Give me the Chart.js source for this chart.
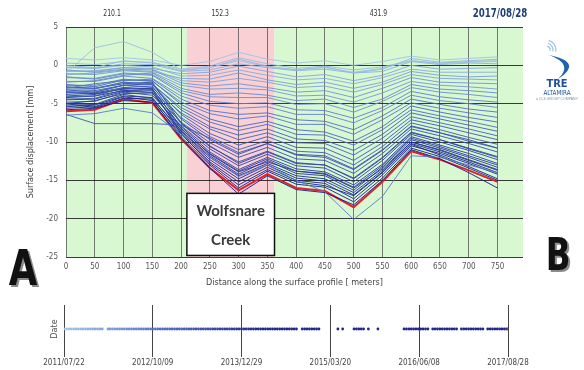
<!DOCTYPE html>
<html>
<head>
<meta charset="utf-8">
<script src="https://cdn.jsdelivr.net/npm/chart.js@4.4.0/dist/chart.umd.min.js"></script>
<style>
body{margin:0;background:#fff;width:584px;height:370px;overflow:hidden;position:relative}
#main{position:absolute;left:0;top:0}
#dates{position:absolute;left:0;top:295px}
</style>
</head>
<body>
<canvas id="main" width="584" height="295"></canvas>
<canvas id="dates" width="584" height="75"></canvas>
<script>
// ══════════════════════════════════════
//  DATA
// ══════════════════════════════════════
const distances=[0,50,100,150,200,250,300,350,400,450,500,550,600,650,700,750];
const yTicks=[5,0,-5,-10,-15,-20,-25];
const segLengths=[210.1,152.3,431.9];
const lastDate='2017/08/28';
// one displacement profile [mm] per acquisition, oldest first
const profiles=[
 [0.9,0.7,1.0,0.7,0.0,0.5,1.7,0.8,0.3,0.6,0.0,0.5,1.2,0.7,0.9,1.1],
 [-1.0,2.3,3.1,1.7,-0.6,-0.3,0.6,-0.2,-0.6,-0.3,-0.9,-0.4,0.6,0.2,0.4,0.5],
 [0.3,0.1,0.5,0.4,-0.5,-0.1,1.0,0.2,-0.4,-0.1,-0.6,-0.2,0.6,0.3,0.5,0.6],
 [0.0,-0.3,0.6,0.3,-0.7,-0.3,0.8,-0.1,-0.6,-0.2,-1.0,-0.5,0.9,0.4,0.6,0.8],
 [-0.2,-0.4,0.2,0.1,-0.8,-0.6,0.2,-0.3,-0.7,-0.5,-1.0,-0.8,0.5,0.1,0.3,0.2],
 [-0.3,-0.4,0.0,-0.2,-1.4,-1.3,-0.6,-1.3,-1.9,-1.7,-2.4,-1.6,-0.5,-0.9,-0.9,-0.9],
 [-0.8,-0.7,-0.3,-0.4,-1.1,-0.9,-0.1,-0.8,-1.5,-1.2,-2.0,-1.3,0.0,-0.5,-0.4,-0.3],
 [-0.7,-0.8,-0.3,-0.5,-2.0,-2.2,-1.7,-2.2,-2.9,-2.7,-3.5,-2.5,-1.2,-1.7,-1.8,-1.9],
 [-1.2,-1.0,-0.6,-0.8,-1.7,-1.8,-1.0,-1.9,-2.5,-2.2,-3.0,-2.2,-0.8,-1.3,-1.5,-1.4],
 [-1.1,-1.2,-0.7,-0.9,-2.6,-3.1,-3.0,-3.2,-4.0,-3.9,-4.8,-3.6,-2.1,-2.6,-2.8,-3.1],
 [-0.6,-0.9,-0.5,-0.6,-2.3,-2.7,-2.4,-2.9,-3.5,-3.3,-4.2,-3.0,-1.6,-2.2,-2.3,-2.4],
 [-1.6,-1.7,-1.0,-1.2,-3.3,-4.1,-4.2,-4.2,-5.1,-5.0,-6.1,-4.7,-2.9,-3.5,-3.8,-4.2],
 [-2.2,-2.0,-1.3,-1.0,-3.0,-3.8,-3.6,-3.9,-4.6,-4.4,-5.5,-4.4,-2.5,-3.1,-3.3,-3.6],
 [-2.1,-2.1,-1.4,-1.7,-4.0,-5.2,-5.6,-5.4,-6.4,-6.4,-7.5,-5.9,-3.9,-4.6,-5.0,-5.5],
 [-1.5,-1.8,-1.1,-1.3,-3.6,-4.7,-5.0,-4.9,-5.8,-5.9,-6.9,-5.5,-3.4,-4.1,-4.5,-4.8],
 [-6.5,-6.3,-5.6,-6.2,-9.0,-12.0,-14.5,-13.0,-15.0,-16.5,-20.1,-17.1,-11.8,-12.0,-13.0,-14.0],
 [-2.6,-2.6,-1.8,-2.1,-4.8,-6.3,-7.0,-6.6,-7.7,-7.7,-9.0,-7.1,-4.9,-5.6,-6.2,-6.8],
 [-3.0,-2.4,-2.0,-1.8,-4.4,-5.9,-6.4,-6.2,-7.1,-7.3,-8.4,-6.6,-4.4,-5.1,-5.7,-6.1],
 [-3.1,-3.1,-2.2,-2.5,-5.5,-7.4,-8.5,-7.7,-9.0,-9.1,-10.4,-8.4,-5.8,-6.6,-7.3,-8.1],
 [-2.5,-2.8,-1.9,-2.0,-5.1,-7.0,-8.0,-7.3,-8.4,-8.7,-9.9,-8.0,-5.3,-6.1,-6.8,-7.4],
 [-3.6,-3.5,-2.6,-2.9,-6.2,-8.3,-9.7,-8.8,-10.1,-10.2,-11.7,-9.5,-6.7,-7.5,-8.3,-9.2],
 [-2.9,-3.0,-2.2,-2.4,-5.8,-8.0,-9.1,-8.3,-9.6,-9.8,-11.1,-9.0,-6.2,-7.0,-7.8,-8.6],
 [-4.1,-4.0,-2.9,-3.3,-6.8,-9.3,-11.0,-9.8,-11.2,-11.4,-13.0,-10.6,-7.5,-8.4,-9.4,-10.3],
 [-3.4,-3.3,-2.6,-2.5,-6.4,-8.9,-10.4,-9.3,-10.7,-10.8,-12.4,-10.1,-7.1,-7.9,-8.8,-9.7],
 [-6.4,-7.6,-7.6,-7.6,-7.8,-9.5,-11.4,-10.2,-11.6,-11.8,-13.5,-11.0,-8.0,-8.8,-9.9,-10.8],
 [-4.4,-4.3,-3.2,-3.6,-7.4,-10.1,-12.0,-10.7,-12.2,-12.4,-14.1,-11.5,-8.3,-9.2,-10.2,-11.3],
 [-3.2,-3.5,-2.6,-2.4,-7.0,-9.7,-11.6,-10.2,-11.7,-12.0,-13.6,-11.1,-7.9,-8.8,-9.7,-10.8],
 [-3.8,-3.6,-2.9,-2.7,-7.6,-10.6,-12.6,-11.2,-12.7,-13.0,-14.7,-12.0,-8.7,-9.7,-10.8,-11.9],
 [-4.8,-4.7,-3.5,-3.9,-7.9,-10.9,-13.1,-11.6,-13.1,-13.4,-15.2,-12.4,-9.0,-10.0,-11.1,-12.3],
 [-2.8,-3.0,-2.4,-2.2,-7.5,-10.5,-12.8,-11.3,-12.8,-13.0,-14.8,-12.1,-8.8,-9.7,-10.9,-12.0],
 [-4.0,-3.8,-3.0,-3.1,-8.0,-11.3,-13.6,-12.0,-13.5,-13.9,-15.6,-12.9,-9.3,-10.4,-11.5,-12.8],
 [-5.0,-4.6,-3.7,-3.6,-8.3,-11.5,-13.8,-12.2,-13.8,-14.1,-15.9,-13.1,-9.5,-10.6,-11.8,-13.0],
 [-5.2,-5.1,-3.8,-4.3,-8.5,-11.8,-14.2,-12.4,-14.1,-14.4,-16.3,-13.3,-9.7,-10.8,-12.0,-13.3],
 [-3.5,-3.7,-3.1,-3.0,-8.2,-11.6,-13.9,-12.6,-13.8,-14.2,-16.0,-13.5,-10.0,-11.0,-12.3,-13.6],
 [-4.5,-4.4,-3.4,-3.5,-8.6,-12.0,-14.4,-12.8,-14.4,-14.8,-16.6,-13.7,-10.0,-11.1,-12.4,-13.7],
 [-5.4,-5.2,-4.0,-4.2,-8.8,-12.3,-14.8,-13.0,-14.7,-15.1,-16.9,-13.9,-10.2,-11.3,-12.6,-14.0],
 [-5.6,-5.4,-4.1,-4.6,-9.0,-12.6,-15.2,-13.3,-15.0,-15.4,-17.4,-14.3,-10.5,-11.5,-12.8,-14.2],
 [-4.2,-4.0,-3.3,-3.2,-8.9,-12.8,-15.6,-13.6,-15.2,-15.7,-17.0,-14.0,-10.3,-11.7,-13.2,-14.8],
 [-5.0,-5.5,-4.3,-4.4,-9.3,-13.0,-16.0,-13.8,-15.5,-15.9,-17.8,-14.7,-10.8,-11.9,-13.4,-15.0],
 [-5.8,-5.6,-4.6,-4.8,-9.5,-13.4,-16.8,-14.4,-16.2,-16.6,-18.2,-15.0,-11.0,-12.2,-14.0,-16.0]
];
const lastProfile=[-6.0,-5.8,-4.4,-4.9,-9.6,-13.4,-16.3,-14.2,-16.0,-16.4,-18.5,-15.2,-11.2,-12.3,-13.7,-15.2];
const dateTicks=['2011/07/22','2012/10/09','2013/12/29','2015/03/20','2016/06/08','2017/08/28'];
const acqDates=[
 '2011/07/22','2011/08/03','2011/08/15','2011/08/27','2011/09/08','2011/09/20','2011/10/02','2011/10/14','2011/10/26','2011/11/07','2011/11/19','2011/12/01','2011/12/13','2011/12/25',
 '2012/01/06','2012/01/18','2012/01/30','2012/02/28','2012/03/09','2012/03/21','2012/04/02','2012/04/14','2012/04/26','2012/05/08','2012/05/20','2012/06/01','2012/06/13','2012/06/25','2012/07/07','2012/07/19','2012/07/31','2012/08/12','2012/08/24','2012/09/05','2012/09/17','2012/09/29','2012/10/11','2012/10/23','2012/11/04','2012/11/16','2012/11/28','2012/12/10','2012/12/22',
 '2013/01/03','2013/01/15','2013/01/27','2013/02/08','2013/02/20','2013/03/04','2013/03/16','2013/03/28','2013/04/09','2013/04/21','2013/05/03','2013/05/15','2013/05/27','2013/06/08','2013/06/20','2013/07/02','2013/07/14','2013/07/26','2013/08/07','2013/08/19','2013/08/31','2013/09/12','2013/09/24','2013/10/06','2013/10/18','2013/10/30','2013/11/11','2013/11/23','2013/12/05','2013/12/17','2013/12/29',
 '2014/01/10','2014/01/22','2014/02/03','2014/02/15','2014/02/27','2014/03/11','2014/03/23','2014/04/04','2014/04/16','2014/04/28','2014/05/10','2014/05/22','2014/06/03','2014/06/15','2014/06/27','2014/07/09','2014/07/21','2014/08/02','2014/08/14','2014/08/26','2014/09/07','2014/09/19','2014/10/01',
 '2014/10/30','2014/11/11','2014/11/23','2014/12/05','2014/12/17','2014/12/29','2015/01/10','2015/01/22',
 '2015/04/27','2015/05/21',
 '2015/07/17','2015/07/29','2015/08/10','2015/08/22','2015/09/03','2015/09/27','2015/11/14',
 '2016/03/24','2016/04/05','2016/04/17','2016/04/29','2016/05/11','2016/05/23','2016/06/04','2016/06/16','2016/06/28','2016/07/10','2016/07/22',
 '2016/08/15','2016/08/27','2016/09/08','2016/09/20','2016/10/02','2016/10/14','2016/10/26','2016/11/07','2016/11/19','2016/12/01','2016/12/13',
 '2017/01/06','2017/01/18','2017/01/30','2017/02/11','2017/02/23','2017/03/07','2017/03/19','2017/03/31','2017/04/12','2017/04/24',
 '2017/05/18','2017/05/30','2017/06/11','2017/06/23','2017/07/05','2017/07/17','2017/07/29','2017/08/10','2017/08/22','2017/08/28'
];

// ══════════════════════════════════════
//  HELPERS
// ══════════════════════════════════════
const NARROW="'Liberation Sans Narrow','DejaVu Sans Condensed',sans-serif";
const GREEN='#d7f8d0', PINK='#f9d0d3', RED='#e3202b';
const LIGHT=[160,196,230], MID=[70,100,196], DARK=[20,26,135];
function shade(f,a){
  const lo=f<.5?LIGHT:MID, hi=f<.5?MID:DARK, t=f<.5?f*2:(f-.5)*2;
  const c=lo.map((v,i)=>Math.round(v+(hi[i]-v)*t));
  return `rgba(${c[0]},${c[1]},${c[2]},${a})`;
}
function dayOf(s){const [y,m,d]=s.split('/').map(Number);return (Date.UTC(y,m-1,d)-Date.UTC(2011,6,22))/864e5;}
// text squeezed horizontally, to get the narrow look of the original
function narrowText(ctx,txt,x,y,sx){ctx.save();ctx.translate(x,y);ctx.scale(sx,1);ctx.fillText(txt,0,0);ctx.restore();}
const xMax=segLengths.reduce((a,b)=>a+b,0);
const zoneEdges=[0,segLengths[0],segLengths[0]+segLengths[1],xMax];
const segLabelX=[80,268,543]; // where the segment lengths are printed (metres)

// ══════════════════════════════════════
//  MAIN PROFILE CHART
// ══════════════════════════════════════
const decor={
  id:'decor',
  beforeDraw(c){
    const {ctx,chartArea:a,scales:{x}}=c;
    ctx.save();
    for(let i=0;i<3;i++){
      const x0=x.getPixelForValue(zoneEdges[i]), x1=x.getPixelForValue(zoneEdges[i+1]);
      ctx.fillStyle=i===1?PINK:GREEN;
      ctx.fillRect(x0,a.top,x1-x0,a.bottom-a.top);
    }
    ctx.restore();
  },
  afterDraw(c){
    const {ctx,scales:{x,y}}=c;
    ctx.save();
    // segment lengths on top
    ctx.fillStyle='#333';ctx.font='8px '+NARROW;ctx.textAlign='center';ctx.textBaseline='middle';
    segLengths.forEach((s,i)=>narrowText(ctx,s.toFixed(1),x.getPixelForValue(segLabelX[i]),14,.85));
    ctx.fillStyle='#1f3d7a';ctx.font='bold 13px '+NARROW;
    narrowText(ctx,lastDate,500,14,.74);
    // creek label box
    const bx0=x.getPixelForValue(zoneEdges[1]), bx1=x.getPixelForValue(zoneEdges[2]);
    const by0=y.getPixelForValue(-16.7), by1=y.getPixelForValue(-24.8);
    ctx.fillStyle='#fff';ctx.fillRect(bx0,by0,bx1-bx0,by1-by0);
    ctx.strokeStyle='#111';ctx.lineWidth=1.5;ctx.strokeRect(bx0,by0,bx1-bx0,by1-by0);
    ctx.fillStyle='#3a3a3a';ctx.font="bold 15px Lato,'Open Sans',sans-serif";
    ctx.fillText('Wolfsnare',(bx0+bx1)/2,211);
    ctx.fillText('Creek',(bx0+bx1)/2,240);
    // A / B profile ends
    ctx.fillStyle='#111';
    ctx.shadowColor='rgba(110,110,110,.8)';ctx.shadowOffsetX=2;ctx.shadowOffsetY=2;
    ctx.textBaseline='alphabetic';
    ctx.font="bold 50px "+NARROW;narrowText(ctx,'A',23,285,.82);
    ctx.font="bold 44px "+NARROW;narrowText(ctx,'B',558,270,.82);
    ctx.shadowColor='transparent';
    // TRE Altamira mark
    ctx.strokeStyle='#9cc2e6';ctx.lineWidth=1.2;
    [4,7,10].forEach(r=>{ctx.beginPath();ctx.arc(546,50,r,-1.3,0.2);ctx.stroke();});
    ctx.fillStyle='#1f63b5';
    ctx.beginPath();ctx.moveTo(549,55);ctx.quadraticCurveTo(584,62,558,79);
    ctx.quadraticCurveTo(574,64,549,55);ctx.fill();
    ctx.fillStyle='#1d4f9e';ctx.textAlign='center';ctx.textBaseline='middle';
    ctx.font="bold 11px "+NARROW;ctx.fillText('TRE',557,84);
    ctx.font="7px "+NARROW;narrowText(ctx,'ALTAMIRA',557,93,.9);
    ctx.fillStyle='#7a8fb0';ctx.font="3.5px sans-serif";ctx.fillText('a CLS GROUP COMPANY',557,99);
    ctx.restore();
  }
};

const lineSets=profiles.map((p,i)=>({
  data:p.map((v,j)=>({x:distances[j],y:v})),
  borderColor:shade(i/(profiles.length-1),.9),borderWidth:1,pointRadius:0,tension:0
}));
lineSets.push({data:lastProfile.map((v,j)=>({x:distances[j],y:v})),borderColor:RED,borderWidth:2,pointRadius:0,tension:0});

new Chart(document.getElementById('main'),{
  type:'line',
  data:{datasets:lineSets},
  options:{
    responsive:false,animation:false,events:[],
    layout:{padding:{left:20,right:61,top:27,bottom:0}},
    plugins:{legend:{display:false},tooltip:{enabled:false}},
    scales:{
      x:{type:'linear',min:0,max:xMax,z:1,
        afterBuildTicks:s=>{s.ticks=distances.map(v=>({value:v}));},
        afterFit:s=>{s.height=38;},
        grid:{color:'rgba(80,80,80,.75)',lineWidth:1,drawTicks:false},
        border:{display:false},
        ticks:{padding:5,autoSkip:false,maxRotation:0,color:'#555',font:{size:8,family:NARROW}},
        title:{display:true,text:'Distance along the surface profile [ meters]',color:'#444',font:{size:9,family:NARROW},padding:{top:0,bottom:7}}},
      y:{min:-25,max:5,z:1,
        afterBuildTicks:s=>{s.ticks=yTicks.map(v=>({value:v}));},
        afterFit:s=>{s.width=46;},
        grid:{color:'rgba(25,25,25,.85)',lineWidth:1,drawTicks:false},
        border:{display:false},
        ticks:{padding:8,color:'#555',font:{size:8,family:NARROW}},
        title:{display:true,text:'Surface displacement [mm]',color:'#444',font:{size:9,family:NARROW},padding:{top:5,bottom:0}}}
    }
  },
  plugins:[decor]
});

// ══════════════════════════════════════
//  ACQUISITION DATES STRIP
// ══════════════════════════════════════
const spanDays=dayOf(lastDate);
new Chart(document.getElementById('dates'),{
  type:'scatter',
  data:{datasets:[{
    data:acqDates.map(d=>({x:dayOf(d),y:0})),
    pointRadius:1.4,pointBorderWidth:0,
    pointBackgroundColor:acqDates.map((d,i)=>i===acqDates.length-1?RED:shade(Math.min(1,dayOf(d)/1000),.95))
  }]},
  options:{
    responsive:false,animation:false,events:[],
    layout:{padding:{left:44,right:76,top:10,bottom:0}},
    plugins:{legend:{display:false},tooltip:{enabled:false}},
    scales:{
      x:{type:'linear',min:0,max:spanDays,
        afterBuildTicks:s=>{s.ticks=dateTicks.map(d=>({value:dayOf(d)}));},
        afterFit:s=>{s.height=17;},
        grid:{color:'#444',lineWidth:1,tickLength:4},
        border:{display:false},
        ticks:{padding:1,autoSkip:false,maxRotation:0,color:'#444',font:{size:8,family:NARROW},callback:(v,i)=>dateTicks[i]}},
      y:{min:-1,max:1,
        afterFit:s=>{s.width=20;},
        grid:{display:false},border:{display:false},ticks:{display:false},
        title:{display:true,text:'Date',color:'#555',font:{size:9,family:NARROW},padding:{top:5,bottom:0}}}
    }
  }
});
</script>
</body>
</html>
